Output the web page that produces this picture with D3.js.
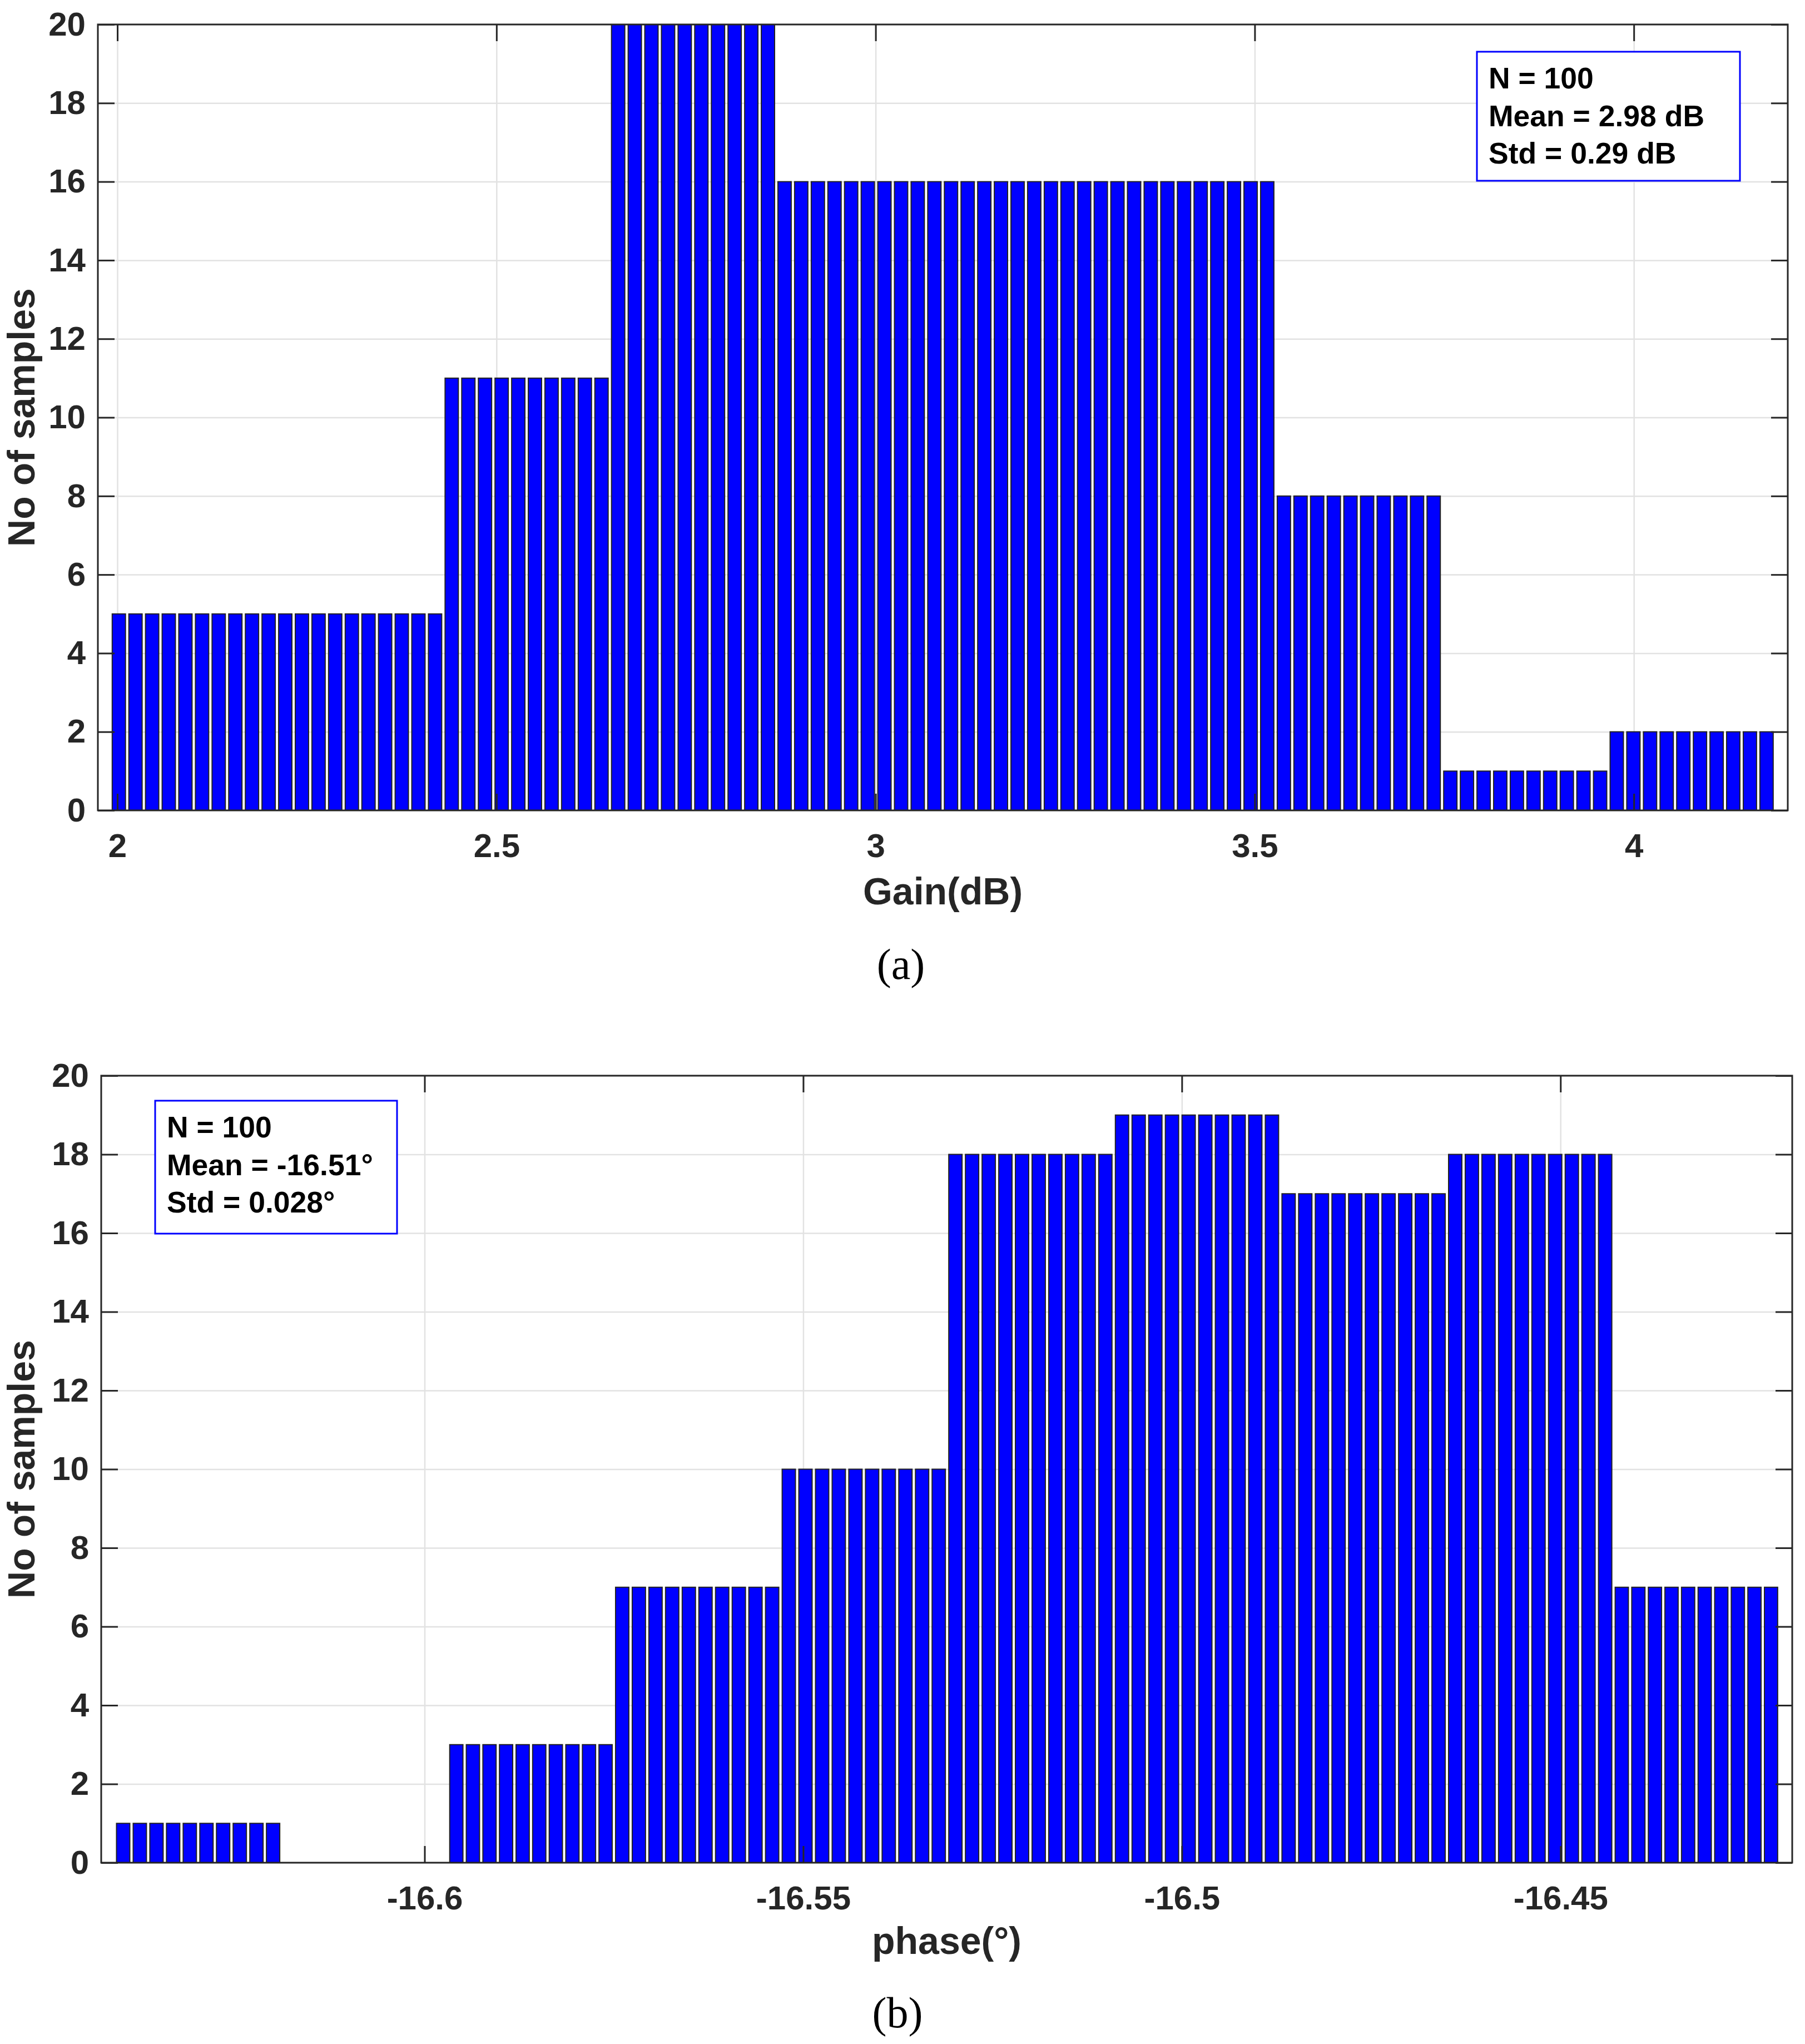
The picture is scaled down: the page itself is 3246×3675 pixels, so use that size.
<!DOCTYPE html>
<html>
<head>
<meta charset="utf-8">
<script src="https://cdn.jsdelivr.net/npm/d3@7"></script>
<style>
  body { margin: 0; background: #fff; }
  text { font-family: "Liberation Sans", Arial, sans-serif; font-weight: bold; }
</style>
</head>
<body>
<script>
// histogram (a) gain
var gainEdges = [1.991, 2.2105, 2.430, 2.6495, 2.869, 3.0885, 3.308, 3.5275, 3.747, 3.9665, 4.186]
var gainCounts = [5, 5, 11, 20, 16, 16, 16, 8, 1, 2]
var gainTicks = [2, 2.5, 3, 3.5, 4]
var gainLegend = ['N = 100', 'Mean = 2.98 dB', 'Std = 0.29 dB']

// histogram (b) phase
var phaseEdges = [-16.6409, -16.6189, -16.5969, -16.5750, -16.5530, -16.5310, -16.5090, -16.4870, -16.4650, -16.4430, -16.4211]
var phaseCounts = [1, 0, 3, 7, 10, 18, 19, 17, 18, 7]
var phaseTicks = [-16.6, -16.55, -16.5, -16.45]
var phaseLegend = ['N = 100', 'Mean = -16.51\u00b0', 'Std = 0.028\u00b0']

var yTicks = [0, 2, 4, 6, 8, 10, 12, 14, 16, 18, 20]
var barsPerBin = 10

let W = 3246, H = 3675
let svg = d3.select('body').append('svg').attr('width', W).attr('height', H)

function panel(o) {
  let x = d3.scaleLinear().domain(o.xDomain).range([o.left, o.right])
  let y = d3.scaleLinear().domain([0, 20]).range([o.bottom, o.top])
  let g = svg.append('g')
  let ph = o.bottom - o.top, pw = o.right - o.left

  // grid
  g.append('g').attr('transform', `translate(0,${o.bottom})`)
    .call(d3.axisBottom(x).tickValues(o.xTicks).tickSize(-ph).tickFormat(''))
    .call(s => s.select('.domain').remove())
    .selectAll('line').attr('stroke', '#e2e2e2').attr('stroke-width', 2.5)
  g.append('g').attr('transform', `translate(${o.left},0)`)
    .call(d3.axisLeft(y).tickValues(yTicks).tickSize(-pw).tickFormat(''))
    .call(s => s.select('.domain').remove())
    .selectAll('line').attr('stroke', '#e2e2e2').attr('stroke-width', 2.5)

  // thin bars, barsPerBin per histogram bin
  let bars = []
  o.counts.forEach((c, i) => {
    let lo = o.edges[i], step = (o.edges[i + 1] - lo) / barsPerBin
    for (let j = 0; j < barsPerBin; j++) bars.push({ x0: lo + j * step, x1: lo + (j + 1) * step, c: c })
  })
  g.selectAll('rect.bar')
    .data(bars.filter(d => d.c > 0))
    .enter()
    .append('rect')
    .attr('class', 'bar')
    .attr('x', d => x(d.x0) + (x(d.x1) - x(d.x0)) * 0.1)
    .attr('width', d => (x(d.x1) - x(d.x0)) * 0.8)
    .attr('y', d => y(d.c))
    .attr('height', d => y(0) - y(d.c))
    .attr('fill', '#0000ff')
    .attr('stroke', '#222')
    .attr('stroke-width', 2)

  // box + ticks
  let styleAxis = s => {
    s.select('.domain').remove()
    s.selectAll('line').attr('stroke', '#262626').attr('stroke-width', 3)
    s.selectAll('text').attr('fill', '#262626').attr('font-size', 60)
  }
  g.append('g').attr('transform', `translate(0,${o.bottom})`)
    .call(d3.axisBottom(x).tickValues(o.xTicks).tickSizeInner(-30).tickSizeOuter(0).tickPadding(41).tickFormat(d => String(d)))
    .call(styleAxis)
  g.append('g').attr('transform', `translate(0,${o.top})`)
    .call(d3.axisTop(x).tickValues(o.xTicks).tickSizeInner(-30).tickSizeOuter(0).tickFormat(''))
    .call(styleAxis)
  g.append('g').attr('transform', `translate(${o.left},0)`)
    .call(d3.axisLeft(y).tickValues(yTicks).tickSizeInner(-30).tickSizeOuter(0).tickPadding(22))
    .call(styleAxis)
  g.append('g').attr('transform', `translate(${o.right},0)`)
    .call(d3.axisRight(y).tickValues(yTicks).tickSizeInner(-30).tickSizeOuter(0).tickFormat(''))
    .call(styleAxis)
  g.append('rect')
    .attr('x', o.left).attr('y', o.top).attr('width', pw).attr('height', ph)
    .attr('fill', 'none').attr('stroke', '#262626').attr('stroke-width', 3)

  // labels
  g.append('text').text(o.xLabel)
    .attr('x', (o.left + o.right) / 2).attr('y', o.xLabelY)
    .attr('text-anchor', 'middle').attr('font-size', 68).attr('fill', '#262626')
  g.append('text').text('No of samples')
    .attr('transform', `translate(62,${(o.top + o.bottom) / 2}) rotate(-90)`)
    .attr('text-anchor', 'middle').attr('font-size', 68).attr('fill', '#262626')
  g.append('text').text(o.caption)
    .attr('x', o.capX).attr('y', o.capY)
    .attr('text-anchor', 'middle').attr('font-size', 78)
    .style('font-family', '"Liberation Serif", "Times New Roman", serif').style('font-weight', 'normal')

  // legend box
  g.append('rect')
    .attr('x', o.leg[0]).attr('y', o.leg[1]).attr('width', o.leg[2]).attr('height', o.leg[3])
    .attr('fill', '#fff').attr('stroke', '#0000ff').attr('stroke-width', 3)
  g.selectAll('text.leg')
    .data(o.legend)
    .enter()
    .append('text')
    .attr('class', 'leg')
    .text(d => d)
    .attr('x', o.leg[0] + 21)
    .attr('y', (d, i) => o.leg[1] + 66 + i * 67.5)
    .attr('font-size', 53.5).attr('fill', '#000')
}

panel({
  edges: gainEdges, counts: gainCounts, xTicks: gainTicks, legend: gainLegend,
  xDomain: [1.9743, 4.203], left: 176, right: 3215, top: 44, bottom: 1457,
  xLabel: 'Gain(dB)', xLabelY: 1626, caption: '(a)', capX: 1620, capY: 1760,
  leg: [2656, 93, 473, 232]
})

panel({
  edges: phaseEdges, counts: phaseCounts, xTicks: phaseTicks, legend: phaseLegend,
  xDomain: [-16.6427, -16.4194], left: 182, right: 3223, top: 1934, bottom: 3349,
  xLabel: 'phase(\u00b0)', xLabelY: 3513, caption: '(b)', capX: 1614, capY: 3645,
  leg: [279, 1979, 435, 239]
})
</script>
</body>
</html>
